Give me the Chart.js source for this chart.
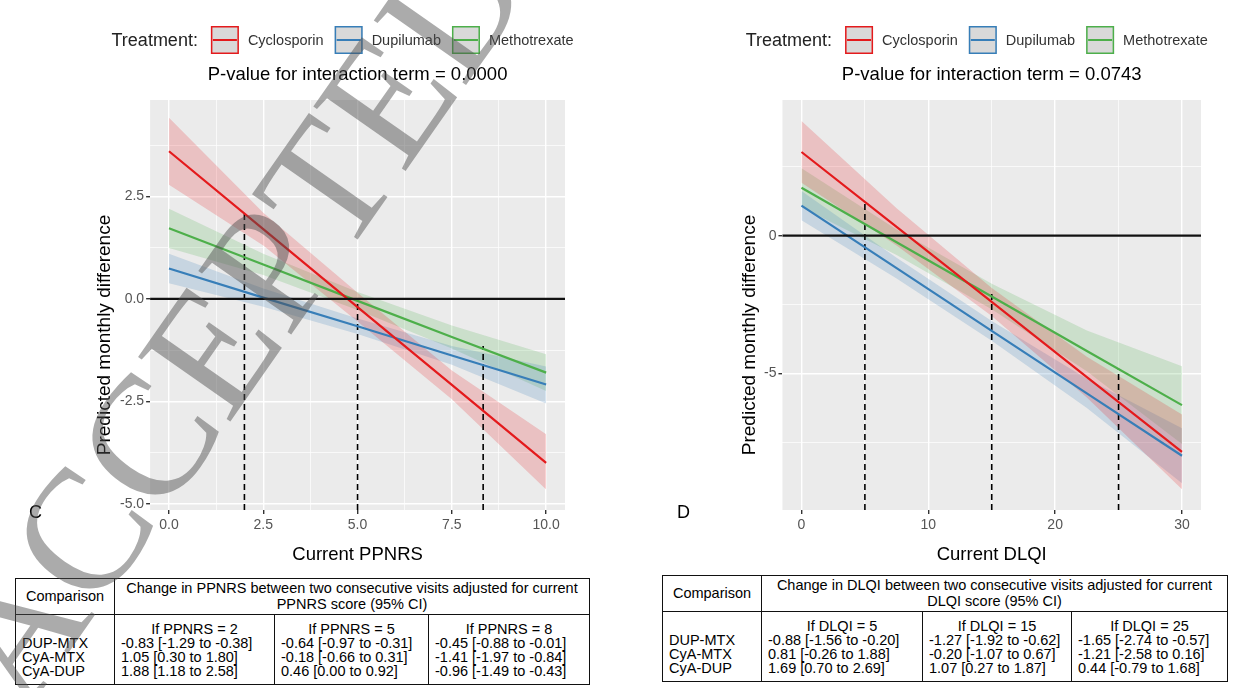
<!DOCTYPE html>
<html>
<head>
<meta charset="utf-8">
<script src="https://cdn.jsdelivr.net/npm/chart.js@4.4.1/dist/chart.umd.min.js"></script>
<style>
  body { margin: 0; background: #fff; width: 1238px; height: 688px; overflow: hidden; position: relative;
         font-family: "Liberation Sans", Arial, sans-serif; }
  canvas { position: absolute; }
  .tag { position: absolute; font-size: 18px; color: #000; line-height: 1; }
  .tab { position: absolute; border-collapse: collapse; table-layout: fixed; font-size: 14.5px; line-height: 14px;
         color: #000; border: 1.3px solid #111; }
  .tab td { padding: 0 6px; border-left: 1px solid #111; border-right: 1px solid #111; white-space: nowrap; }
  .tab tr.head td { border-bottom: 1px solid #111; padding-top: 2px; padding-bottom: 2px; line-height: 15.5px; text-align: center; }
  .tab tr.first td { padding-top: 7px; }
  .tab tr.last td { padding-bottom: 6px; }
  .tab td.c { text-align: center; }
  .mark { position: absolute; left: 232px; top: 318px; transform: translate(-50%, -50%) rotate(-55deg);
          font: 172px/1 "Liberation Serif", "Times New Roman", serif; color: #505050; opacity: 0.48;
          white-space: nowrap; pointer-events: none; z-index: 5; }
</style>
</head>
<body>
<canvas id="chartC" width="615" height="570" style="left:0;top:0"></canvas>
<canvas id="chartD" width="618" height="570" style="left:620px;top:0"></canvas>
<div class="tag" style="left:29px;top:503px">C</div>
<div class="tag" style="left:677px;top:503px">D</div>
<table class="tab" id="tabC" style="left:15px;top:578px;width:574px"></table>
<table class="tab" id="tabD" style="left:662px;top:575px;width:565px"></table>
<div class="mark">ACCEPTED</div>

<script>
// ---- panel C : current PPNRS ----
const ppnrsX = [0, 2.5, 5, 7.5, 10];
const ppnrsCyA = [3.6, 1.7, -0.2, -2.1, -4.0];
const ppnrsCyAHi = [4.42, 2.1, 0.15, -1.75, -3.3];
const ppnrsCyALo = [2.78, 1.3, -0.55, -2.45, -4.65];
const ppnrsDup = [0.74, 0.03, -0.67, -1.38, -2.09];
const ppnrsDupHi = [1.1, 0.25, -0.48, -1.15, -1.65];
const ppnrsDupLo = [0.38, -0.19, -0.86, -1.61, -2.55];
const ppnrsMtx = [1.72, 0.84, -0.05, -0.93, -1.8];
const ppnrsMtxHi = [2.2, 1.1, 0.17, -0.65, -1.35];
const ppnrsMtxLo = [1.24, 0.58, -0.27, -1.21, -2.25];
const ppnrsCutX = [2, 5, 8.33];
const ppnrsCutTop = [2.08, -0.05, -1.15];
const ppnrsCutBottom = -5.15;
const ppnrsXTicks = [0, 2.5, 5, 7.5, 10];
const ppnrsXLabels = ['0.0', '2.5', '5.0', '7.5', '10.0'];
const ppnrsXMinor = [1.25, 3.75, 6.25, 8.75];
const ppnrsYTicks = [-5, -2.5, 0, 2.5];
const ppnrsYLabels = ['-5.0', '-2.5', '0.0', '2.5'];
const ppnrsYMinor = [-3.75, -1.25, 1.25, 3.75];

// ---- panel D : current DLQI ----
const dlqiX = [0, 7.5, 15, 22.5, 30];
const dlqiCyA = [3.04, 0.32, -2.41, -5.14, -7.86];
const dlqiCyAHi = [4.17, 1.0, -1.9, -4.4, -6.5];
const dlqiCyALo = [1.92, -0.36, -2.92, -5.88, -9.22];
const dlqiDup = [1.09, -1.18, -3.46, -5.73, -8.0];
const dlqiDupHi = [1.62, -0.8, -3.1, -5.2, -7.0];
const dlqiDupLo = [0.56, -1.56, -3.82, -6.26, -9.0];
const dlqiMtx = [1.74, -0.24, -2.21, -4.19, -6.16];
const dlqiMtxHi = [2.45, 0.22, -1.75, -3.45, -4.75];
const dlqiMtxLo = [1.03, -0.7, -2.67, -4.93, -7.57];
const dlqiCutX = [5, 15, 25];
const dlqiCutTop = [1.22, -2.1, -4.84];
const dlqiCutBottom = -9.97;
const dlqiXTicks = [0, 10, 20, 30];
const dlqiXLabels = ['0', '10', '20', '30'];
const dlqiXMinor = [5, 15, 25];
const dlqiYTicks = [-5, 0];
const dlqiYLabels = ['-5', '0'];
const dlqiYMinor = [-7.5, -2.5, 2.5];

const treatments = ['Cyclosporin', 'Dupilumab', 'Methotrexate'];
const lineColors = ['#e41a1c', '#377eb8', '#4daf4a'];
const bandColors = ['rgba(228,26,28,0.2)', 'rgba(55,126,184,0.2)', 'rgba(77,175,74,0.2)'];

// ---- tables ----
const comparisons = ['DUP-MTX', 'CyA-MTX', 'CyA-DUP'];
const ppnrsConditions = ['If PPNRS = 2', 'If PPNRS = 5', 'If PPNRS = 8'];
const ppnrsTable = [
  ['-0.83 [-1.29 to -0.38]', '-0.64 [-0.97 to -0.31]', '-0.45 [-0.88 to -0.01]'],
  ['1.05 [0.30 to 1.80]', '-0.18 [-0.66 to 0.31]', '-1.41 [-1.97 to -0.84]'],
  ['1.88 [1.18 to 2.58]', '0.46 [0.00 to 0.92]', '-0.96 [-1.49 to -0.43]']
];
const dlqiConditions = ['If DLQI = 5', 'If DLQI = 15', 'If DLQI = 25'];
const dlqiTable = [
  ['-0.88 [-1.56 to -0.20]', '-1.27 [-1.92 to -0.62]', '-1.65 [-2.74 to -0.57]'],
  ['0.81 [-0.26 to 1.88]', '-0.20 [-1.07 to 0.67]', '-1.21 [-2.58 to 0.16]'],
  ['1.69 [0.70 to 2.69]', '1.07 [0.27 to 1.87]', '0.44 [-0.79 to 1.68]']
];

const SANS = '"Liberation Sans", Arial, sans-serif';

// grey panel, zero line, legend, title and y title
const ggPanel = {
  id: 'ggPanel',
  beforeDraw(chart) {
    const { ctx, chartArea: a } = chart;
    ctx.save();
    ctx.fillStyle = '#ebebeb';
    ctx.fillRect(a.left, a.top, a.right - a.left, a.bottom - a.top);
    ctx.restore();
  },
  afterDatasetsDraw(chart) {
    const { ctx, chartArea: a } = chart;
    const y0 = chart.scales.y.getPixelForValue(0);
    ctx.save();
    ctx.strokeStyle = '#111';
    ctx.lineWidth = 2.2;
    ctx.beginPath();
    ctx.moveTo(a.left, y0);
    ctx.lineTo(a.right, y0);
    ctx.stroke();
    ctx.restore();
  },
  afterDraw(chart, args, opts) {
    const { ctx, chartArea: a } = chart;
    const cx = (a.left + a.right) / 2;
    ctx.save();
    ctx.textBaseline = 'middle';
    ctx.textAlign = 'center';
    ctx.fillStyle = '#000';
    ctx.font = '18.5px ' + SANS;
    ctx.fillText(opts.title, cx, 75);

    // y title sits a little below the middle of the panel, as in the figure
    ctx.save();
    ctx.translate(a.left - opts.yTitleGap, (a.top + a.bottom) / 2 + 30);
    ctx.rotate(-Math.PI / 2);
    ctx.font = '19px ' + SANS;
    ctx.fillText('Predicted monthly difference', 0, 0);
    ctx.restore();

    // legend row
    ctx.textAlign = 'left';
    ctx.font = '18px ' + SANS;
    const headW = ctx.measureText('Treatment:').width;
    ctx.font = '14.5px ' + SANS;
    const widths = treatments.map(t => ctx.measureText(t).width);
    const total = headW + 13 + widths.reduce((s, w) => s + 28 + 9 + w, 0) + 11 * (treatments.length - 1);
    let x = cx - 15 - total / 2;
    const yc = 40;
    ctx.fillStyle = '#222';
    ctx.font = '18px ' + SANS;
    ctx.fillText('Treatment:', x, yc + 1);
    x += headW + 13;
    ctx.font = '14.5px ' + SANS;
    treatments.forEach((t, i) => {
      ctx.fillStyle = '#d9d9d9';
      ctx.fillRect(x, yc - 14, 28, 28);
      ctx.strokeStyle = lineColors[i];
      ctx.lineWidth = 1.5;
      ctx.strokeRect(x + 0.75, yc - 13.25, 26.5, 26.5);
      ctx.lineWidth = 2;
      ctx.beginPath();
      ctx.moveTo(x + 2, yc);
      ctx.lineTo(x + 26, yc);
      ctx.stroke();
      ctx.fillStyle = '#333';
      ctx.fillText(t, x + 28 + 9, yc + 1);
      x += 28 + 9 + widths[i] + 11;
    });
    ctx.restore();
  }
};

function axis(min, max, majors, labels, minors, title) {
  const isMajor = c => c.tick && majors.includes(c.tick.value);
  return {
    type: 'linear',
    min: min,
    max: max,
    afterBuildTicks(scale) {
      scale.ticks = majors.concat(minors).sort((p, q) => p - q).map(v => ({ value: v }));
    },
    ticks: {
      autoSkip: false,
      maxRotation: 0,
      padding: title ? 3 : 2,
      color: '#555',
      font: { family: SANS, size: 14 },
      callback: v => {
        const i = majors.indexOf(v);
        return i >= 0 ? labels[i] : '';
      }
    },
    grid: {
      color: '#ffffff',
      lineWidth: c => (isMajor(c) ? 1.4 : 0.7),
      tickColor: c => (isMajor(c) ? '#333' : 'rgba(0,0,0,0)'),
      tickLength: 4
    },
    border: { display: false },
    title: {
      display: !!title,
      text: title,
      color: '#000',
      font: { family: SANS, size: 18.5 },
      padding: { top: 7, bottom: 4 }
    }
  };
}

function buildPanel(id, p) {
  const pts = ys => p.x.map((x, i) => ({ x: x, y: ys[i] }));
  const datasets = [];
  p.fit.forEach((ys, i) => datasets.push({
    data: pts(ys), borderColor: lineColors[i], borderWidth: 2.2, pointRadius: 0, fill: false, order: 0
  }));
  p.cutX.forEach((cx, i) => datasets.push({
    data: [{ x: cx, y: p.cutBottom }, { x: cx, y: p.cutTop[i] }],
    borderColor: '#000', borderWidth: 1.6, borderDash: [6, 4], pointRadius: 0, fill: false, order: 1
  }));
  p.hi.forEach((ys, i) => {
    datasets.push({ data: pts(ys), borderColor: 'rgba(0,0,0,0)', pointRadius: 0, fill: '+1', backgroundColor: bandColors[i], order: 2 });
    datasets.push({ data: pts(p.lo[i]), borderColor: 'rgba(0,0,0,0)', pointRadius: 0, fill: false, order: 2 });
  });

  return new Chart(document.getElementById(id), {
    type: 'line',
    data: { datasets: datasets },
    plugins: [ggPanel],
    options: {
      responsive: false,
      animation: false,
      events: [],
      layout: { padding: p.padding },
      elements: { line: { tension: 0 } },
      scales: {
        x: axis(p.xMin, p.xMax, p.xTicks, p.xLabels, p.xMinor, p.xTitle),
        y: axis(p.yMin, p.yMax, p.yTicks, p.yLabels, p.yMinor, '')
      },
      plugins: {
        legend: { display: false },
        tooltip: { enabled: false },
        ggPanel: { title: p.title, yTitleGap: p.yTitleGap }
      }
    }
  });
}

buildPanel('chartC', {
  x: ppnrsX,
  fit: [ppnrsCyA, ppnrsDup, ppnrsMtx],
  hi: [ppnrsCyAHi, ppnrsDupHi, ppnrsMtxHi],
  lo: [ppnrsCyALo, ppnrsDupLo, ppnrsMtxLo],
  cutX: ppnrsCutX, cutTop: ppnrsCutTop, cutBottom: ppnrsCutBottom,
  xMin: -0.5, xMax: 10.5, xTicks: ppnrsXTicks, xLabels: ppnrsXLabels, xMinor: ppnrsXMinor,
  yMin: -5.15, yMax: 4.85, yTicks: ppnrsYTicks, yLabels: ppnrsYLabels, yMinor: ppnrsYMinor,
  xTitle: 'Current PPNRS',
  title: 'P-value for interaction term = 0.0000',
  yTitleGap: 45,
  padding: { top: 100, left: 118, right: 50, bottom: 0 }
});

buildPanel('chartD', {
  x: dlqiX,
  fit: [dlqiCyA, dlqiDup, dlqiMtx],
  hi: [dlqiCyAHi, dlqiDupHi, dlqiMtxHi],
  lo: [dlqiCyALo, dlqiDupLo, dlqiMtxLo],
  cutX: dlqiCutX, cutTop: dlqiCutTop, cutBottom: dlqiCutBottom,
  xMin: -1.5, xMax: 31.5, xTicks: dlqiXTicks, xLabels: dlqiXLabels, xMinor: dlqiXMinor,
  yMin: -9.97, yMax: 4.93, yTicks: dlqiYTicks, yLabels: dlqiYLabels, yMinor: dlqiYMinor,
  xTitle: 'Current DLQI',
  title: 'P-value for interaction term = 0.0743',
  yTitleGap: 33,
  padding: { top: 100, left: 142, right: 37, bottom: 0 }
});

// summary tables under each panel
function fillTable(id, measure, conditions, rows, colWidths) {
  const t = document.getElementById(id);
  let html = '<colgroup>' + colWidths.map(w => '<col style="width:' + w + 'px">').join('') + '</colgroup>';
  html += '<tr class="head"><td>Comparison</td><td colspan="3">Change in ' + measure +
    ' between two consecutive visits adjusted for current<br>' + measure + ' score (95% CI)</td></tr>';
  html += '<tr class="first"><td></td>' + conditions.map(c => '<td class="c">' + c + '</td>').join('') + '</tr>';
  rows.forEach((r, i) => {
    const cls = i === rows.length - 1 ? ' class="last"' : '';
    html += '<tr' + cls + '><td>' + comparisons[i] + '</td>' + r.map(v => '<td>' + v + '</td>').join('') + '</tr>';
  });
  t.innerHTML = html;
}
fillTable('tabC', 'PPNRS', ppnrsConditions, ppnrsTable, [99, 160, 154, 161]);
fillTable('tabD', 'DLQI', dlqiConditions, dlqiTable, [99, 161, 149, 156]);
</script>
</body>
</html>
